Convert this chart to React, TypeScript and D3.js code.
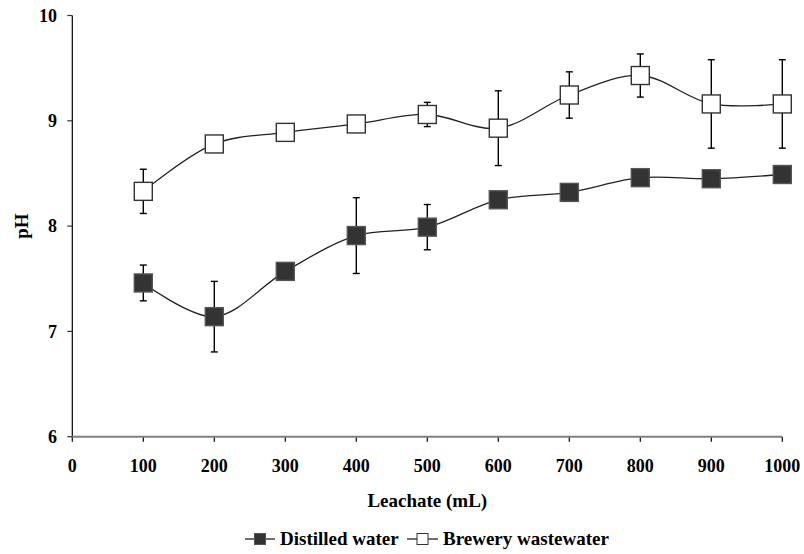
import React from "react";
import * as d3 from "d3";

const leachate = [100, 200, 300, 400, 500, 600, 700, 800, 900, 1000];
const distilledPH = [7.46, 7.14, 7.57, 7.91, 7.99, 8.25, 8.32, 8.46, 8.45, 8.49];
const distilledErr = [0.17, 0.335, 0, 0.36, 0.215, 0, 0, 0, 0, 0];
const breweryPH = [8.33, 8.78, 8.89, 8.97, 9.06, 8.93, 9.245, 9.43, 9.16, 9.16];
const breweryErr = [0.21, 0, 0, 0, 0.115, 0.355, 0.22, 0.205, 0.42, 0.42];
const xTicks = [0, 100, 200, 300, 400, 500, 600, 700, 800, 900, 1000];
const yTicks = [6, 7, 8, 9, 10];

const W = 804;
const H = 554;
const L = 72.3;
const R = 782.3;
const T = 15.5;
const B = 436.7;

export default function App() {
  const x = d3.scaleLinear().domain([0, 1000]).range([L, R]);
  const y = d3.scaleLinear().domain([6, 10]).range([B, T]);
  const line = d3
    .line<number>()
    .x((_, i) => x(leachate[i]))
    .y((d) => y(d))
    .curve(d3.curveCatmullRom.alpha(0.5));
  const font = "'Liberation Serif', 'Times New Roman', serif";
  const ms = 18;
  const series = [
    { vals: distilledPH, err: distilledErr, fill: "#333333", stroke: "#555555" },
    { vals: breweryPH, err: breweryErr, fill: "#ffffff", stroke: "#333333" },
  ];
  const cx = (L + R) / 2;
  return (
    <svg
      width={W}
      height={H}
      style={{ position: "absolute", left: 0, top: 0, background: "#fff" }}
      fontFamily={font}
      fontWeight="bold"
    >
      {/* Y axis */}
      <line x1={L} x2={L} y1={T} y2={B} stroke="#000" strokeWidth={1.2} />
      {yTicks.map((t) => (
        <g key={t}>
          <line x1={L - 5} x2={L} y1={y(t)} y2={y(t)} stroke="#333" strokeWidth={1.2} />
          <text x={57} y={y(t)} dy="0.35em" textAnchor="end" fontSize={18}>
            {t}
          </text>
        </g>
      ))}
      {/* X axis */}
      {xTicks.map((t) => (
        <g key={t}>
          <line x1={x(t)} x2={x(t)} y1={B} y2={B + 5} stroke="#000" strokeWidth={1.2} />
          <text x={x(t)} y={472} textAnchor="middle" fontSize={18}>
            {t}
          </text>
        </g>
      ))}
      <line x1={L} x2={R} y1={B} y2={B} stroke="#808080" strokeWidth={2} />
      <text x={cx} y={507} textAnchor="middle" fontSize={19}>
        Leachate (mL)
      </text>
      <text
        transform={`translate(28, ${(T + B) / 2}) rotate(-90)`}
        textAnchor="middle"
        fontSize={19}
      >
        pH
      </text>
      {/* error bars */}
      {series.map((s, si) =>
        s.vals.map((v, i) =>
          s.err[i] > 0 ? (
            <g key={`e${si}-${i}`} stroke="#000" strokeWidth={1.4}>
              <line x1={x(leachate[i])} x2={x(leachate[i])} y1={y(v - s.err[i])} y2={y(v + s.err[i])} />
              <line x1={x(leachate[i]) - 3.5} x2={x(leachate[i]) + 3.5} y1={y(v - s.err[i])} y2={y(v - s.err[i])} />
              <line x1={x(leachate[i]) - 3.5} x2={x(leachate[i]) + 3.5} y1={y(v + s.err[i])} y2={y(v + s.err[i])} />
            </g>
          ) : null
        )
      )}
      {/* lines */}
      {series.map((s, si) => (
        <path key={`l${si}`} d={line(s.vals) || ""} fill="none" stroke="#222" strokeWidth={1.3} />
      ))}
      {/* markers */}
      {series.map((s, si) =>
        s.vals.map((v, i) => (
          <rect
            key={`m${si}-${i}`}
            x={x(leachate[i]) - ms / 2}
            y={y(v) - ms / 2}
            width={ms}
            height={ms}
            fill={s.fill}
            stroke={s.stroke}
            strokeWidth={1.4}
          />
        ))
      )}
      {/* legend */}
      <g transform={`translate(0, 539)`}>
        <line x1={245} x2={275} y1={0} y2={0} stroke="#222" strokeWidth={1.3} />
        <rect x={254.5} y={-5.5} width={11} height={11} fill="#333" stroke="#555" strokeWidth={1} />
        <text x={280} y={6} fontSize={19}>
          Distilled water
        </text>
        <line x1={407} x2={438} y1={0} y2={0} stroke="#222" strokeWidth={1.3} />
        <rect x={417} y={-5.5} width={11} height={11} fill="#fff" stroke="#333" strokeWidth={1} />
        <text x={443} y={6} fontSize={19}>
          Brewery wastewater
        </text>
      </g>
    </svg>
  );
}
